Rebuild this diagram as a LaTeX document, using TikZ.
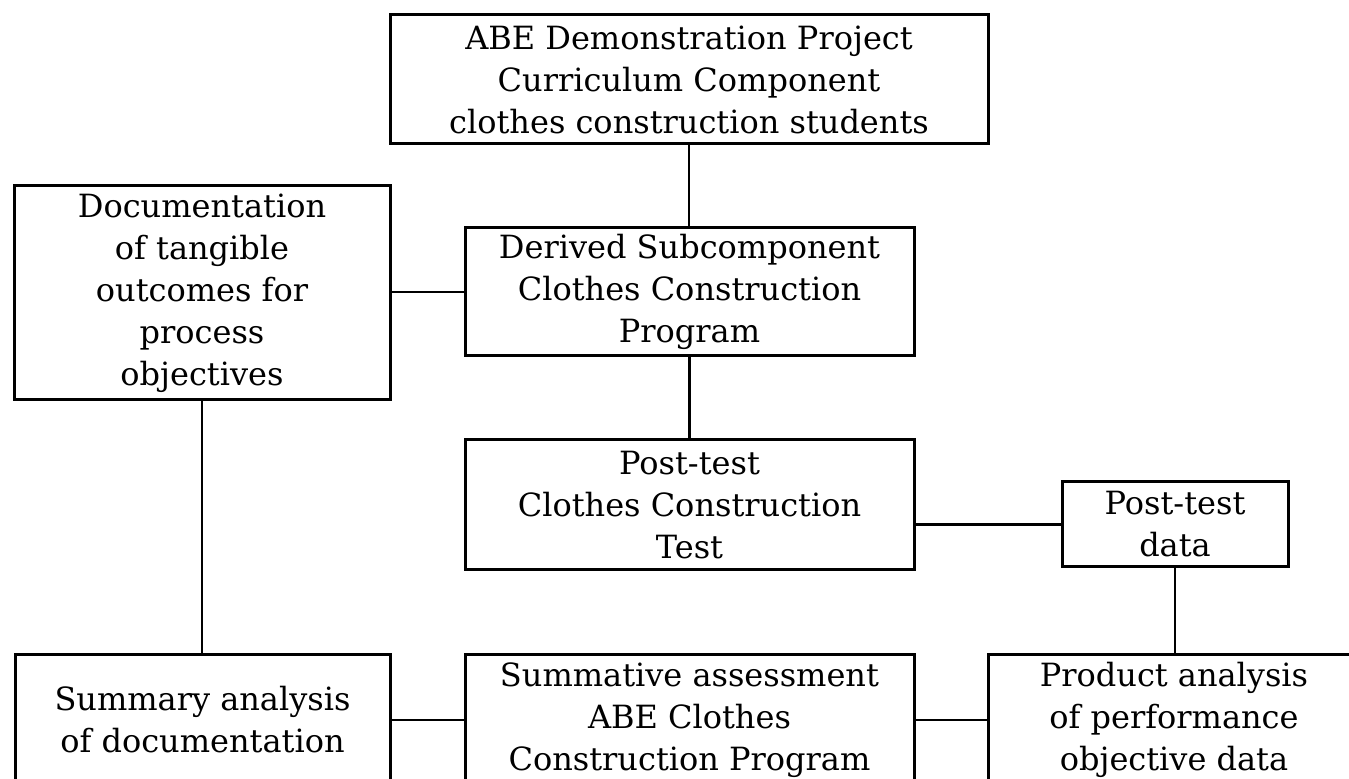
\documentclass[tikz,border=0pt]{standalone}
\usepackage{fontspec}
\setmainfont{DejaVu Serif}
\usetikzlibrary{calc}

\begin{document}
\begin{tikzpicture}[x=0.5pt,y=-0.5pt,
        block/.style={draw,line width=1.5pt,rectangle,align=center,inner sep=0pt,
            font=\fontsize{16}{21}\selectfont},
        link/.style={line width=1.4pt}]
        \useasboundingbox (0,0) rectangle (1349,779);
        \clip (0,0) rectangle (1349,779);
        % top row
        \node [block,minimum width=299pt,minimum height=64.5pt] (abe) at (689,79.5)
            {ABE Demonstration Project\\Curriculum Component\\clothes construction students};
        \node [block,minimum width=188pt,minimum height=107pt] (doc) at (202,293)
            {Documentation\\of tangible\\outcomes for\\process\\objectives};
        \node [block,minimum width=224.5pt,minimum height=64pt] (derived) at (689.5,292)
            {Derived Subcomponent\\Clothes Construction\\Program};
        % middle row
        \node [block,minimum width=224.5pt,minimum height=65pt] (posttest) at (689.5,505)
            {Post-test\\Clothes Construction\\Test};
        \node [block,minimum width=113pt,minimum height=42.5pt] (pdata) at (1175,524.5)
            {Post-test\\data};
        % bottom row, cut off by the page edge
        \node [block,minimum width=187.5pt,minimum height=65pt] (summary) at (202.5,720)
            {Summary analysis\\of documentation};
        \node [block,minimum width=224.5pt,minimum height=65pt] (summative) at (689.5,720)
            {Summative assessment\\ABE Clothes\\Construction Program};
        \node [block,minimum width=186pt,minimum height=65pt] (product) at (1174,720)
            {Product analysis\\of performance\\objective data};
        % connectors
        \draw [link] (abe.south) -- (abe.south |- derived.north);
        \draw [link] (doc.east |- derived.west) -- (derived.west);
        \draw [link] (derived.south) -- (derived.south |- posttest.north);
        \draw [link] (pdata.west -| posttest.east) -- (pdata.west);
        \draw [link] (pdata.south) -- (pdata.south |- product.north);
        \draw [link] (doc.south) -- (doc.south |- summary.north);
        \draw [link] (summary.east) -- (summative.west);
        \draw [link] (summative.east) -- (product.west);
    \end{tikzpicture}
\end{document}
